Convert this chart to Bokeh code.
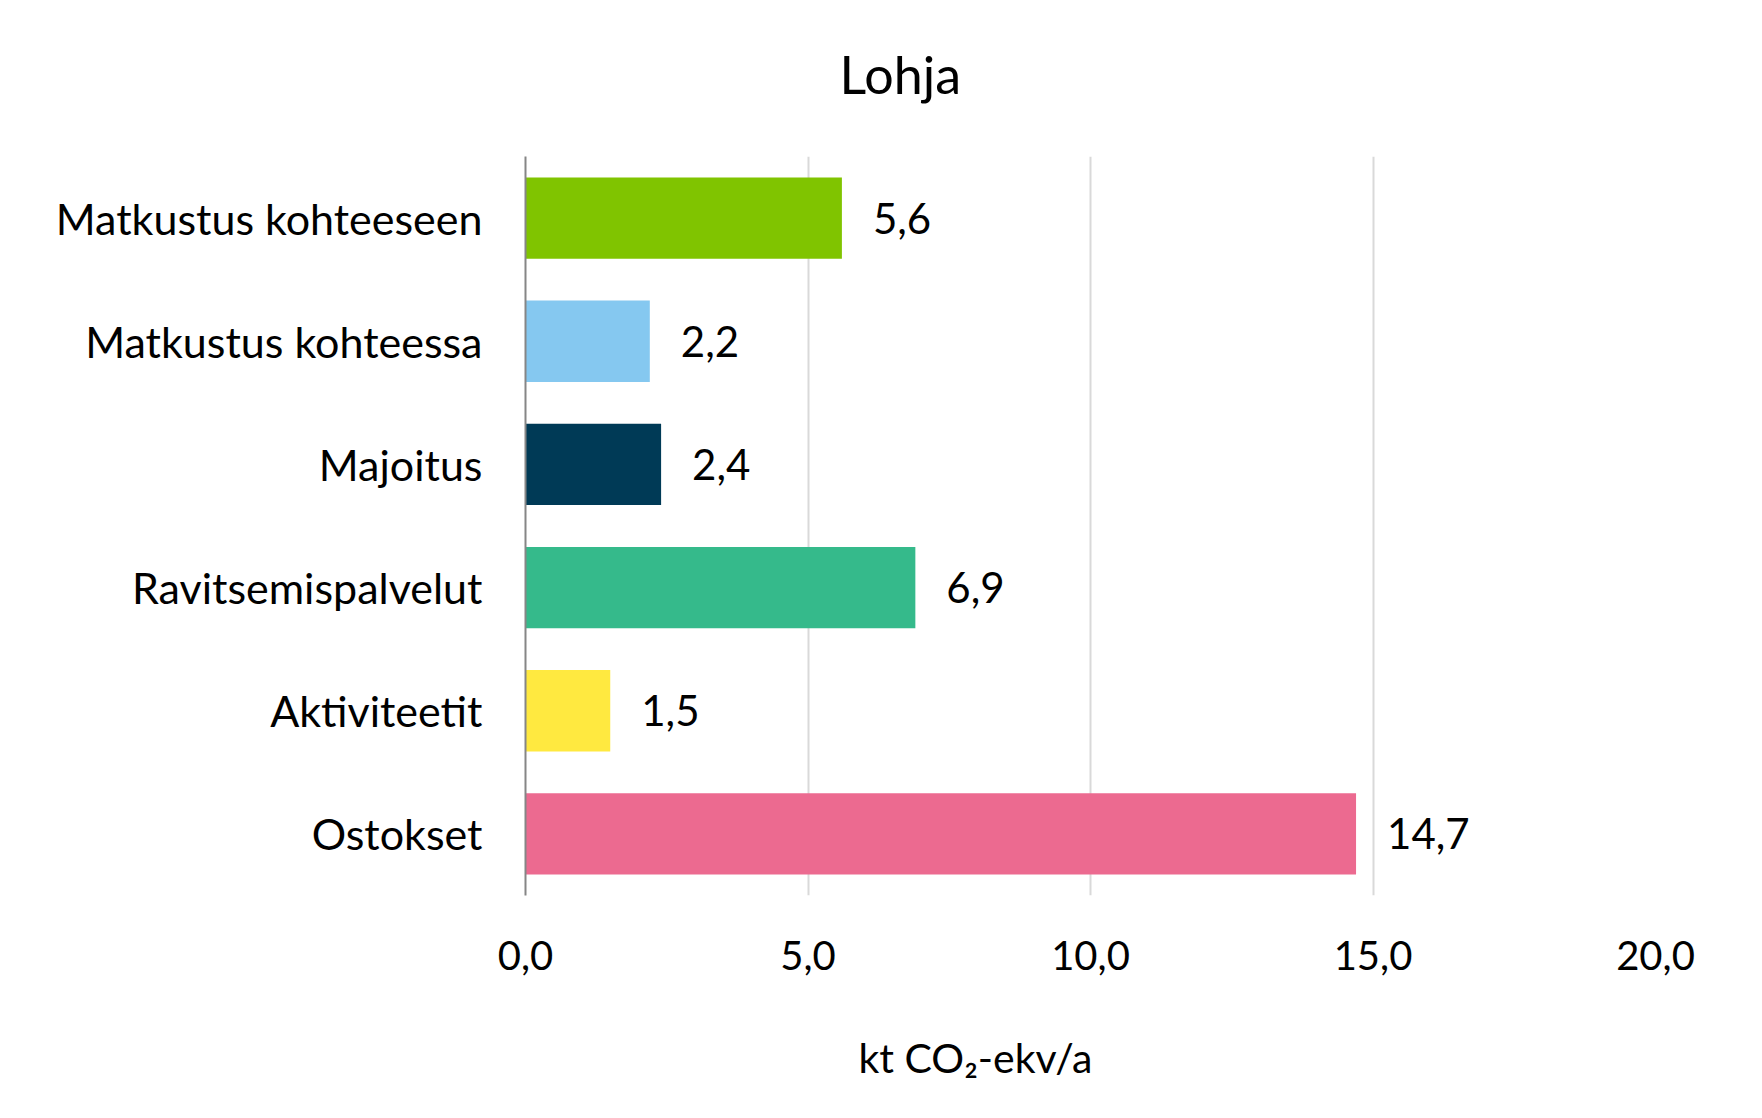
from bokeh.plotting import figure
from bokeh.models import ColumnDataSource, FactorRange, Range1d, FixedTicker, Title
from bokeh.core.properties import value
from bokeh.embed import file_html
from bokeh.resources import INLINE

categories = ["Matkustus kohteeseen", "Matkustus kohteessa", "Majoitus",
              "Ravitsemispalvelut", "Aktiviteetit", "Ostokset"]
values = [5.6, 2.2, 2.4, 6.9, 1.5, 14.7]
colors = ["#80C400", "#85C8F0", "#003A56", "#35BA8B", "#FFE940", "#EC6A90"]
x_ticks = [0, 5, 10, 15, 20]
x_tick_labels = ["0,0", "5,0", "10,0", "15,0", "20,0"]
title_text = "Lohja"
x_label = "kt CO\u2082-ekv/a"

FONT = "Lato"

labels = [f"{v:.1f}".replace(".", ",") for v in values]
src = ColumnDataSource(dict(cat=categories, val=values, col=colors, lab=labels))

p = figure(width=1762, height=1118, output_backend="svg", toolbar_location=None,
           title=None,
           y_range=FactorRange(factors=list(reversed(categories)), range_padding=0),
           x_range=Range1d(0, 20),
           min_border_left=525, min_border_right=107, min_border_top=156, min_border_bottom=223)

p.hbar(y="cat", right="val", left=0, height=0.66, color="col", source=src, line_color=None)
p.text(x="val", y="cat", text="lab", source=src, x_offset=31, text_baseline="middle",
       text_align="left", text_font=value(FONT), text_font_size="42px", text_color="#000000")

p.outline_line_color = None
p.background_fill_color = "white"
p.border_fill_color = "white"

# x axis
p.xaxis.ticker = FixedTicker(ticks=x_ticks)
p.xaxis.major_label_overrides = {t: l for t, l in zip(x_ticks, x_tick_labels)}
p.xaxis.axis_line_color = None
p.xaxis.major_tick_line_color = None
p.xaxis.minor_tick_line_color = None
p.xaxis.major_label_standoff = 39
p.xaxis.major_label_text_font = FONT
p.xaxis.major_label_text_font_size = "40px"
p.xaxis.major_label_text_color = "#000000"

# y axis
p.yaxis.axis_line_color = "#868686"
p.yaxis.axis_line_width = 2
p.yaxis.major_tick_line_color = None
p.yaxis.minor_tick_line_color = None
p.yaxis.major_label_standoff = 37
p.yaxis.major_label_text_font = FONT
p.yaxis.major_label_text_font_size = "43px"
p.yaxis.major_label_text_color = "#000000"

p.xgrid.grid_line_color = "#D9D9D9"
p.xgrid.grid_line_width = 2
p.ygrid.grid_line_color = None

# spacer panel between frame and title, then the title itself
p.add_layout(Title(text=" ", text_font_size="1px", standoff=9), "above")
p.add_layout(Title(text=title_text, align="left", offset=314, standoff=79,
                   text_font=FONT, text_font_size="52px", text_font_style="normal",
                   text_color="#000000"), "above")
# spacer below the tick labels, then the axis title
p.add_layout(Title(text=" ", text_font_size="1px", standoff=19), "below")
p.add_layout(Title(text=x_label, align="left", offset=333, standoff=73,
                   text_font=FONT, text_font_size="41px", text_font_style="normal",
                   text_color="#000000"), "below")

open("out.html", "w").write(file_html(p, INLINE))
